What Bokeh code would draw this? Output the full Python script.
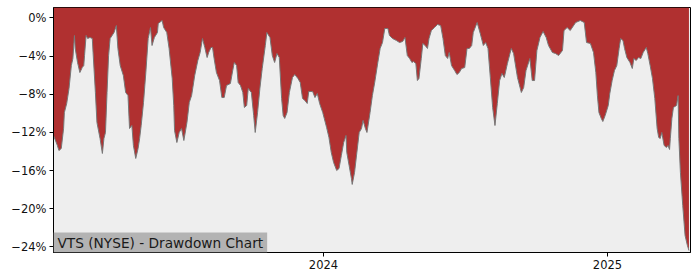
import pandas as pd
from bokeh.plotting import figure
from bokeh.models import (ColumnDataSource, Range1d, FixedTicker, DatetimeTickFormatter, Label)
from bokeh.embed import file_html
from bokeh.resources import INLINE

dates = [
    "2023-01-18", "2023-01-23", "2023-01-25", "2023-01-28", "2023-01-31", "2023-02-01", "2023-02-04",
    "2023-02-07", "2023-02-10", "2023-02-12", "2023-02-14", "2023-02-15", "2023-02-18", "2023-02-21",
    "2023-02-24", "2023-02-26", "2023-02-27", "2023-03-01", "2023-03-03", "2023-03-06", "2023-03-09",
    "2023-03-10", "2023-03-13", "2023-03-15", "2023-03-19", "2023-03-22", "2023-03-24", "2023-03-26",
    "2023-03-28", "2023-03-30", "2023-04-01", "2023-04-06", "2023-04-09", "2023-04-11", "2023-04-14",
    "2023-04-18", "2023-04-21", "2023-04-24", "2023-04-26", "2023-04-29", "2023-05-01", "2023-05-04",
    "2023-05-07", "2023-05-09", "2023-05-11", "2023-05-14", "2023-05-17", "2023-05-20", "2023-05-23",
    "2023-05-25", "2023-05-28", "2023-06-01", "2023-06-02", "2023-06-07", "2023-06-09", "2023-06-13",
    "2023-06-16", "2023-06-20", "2023-06-22", "2023-06-23", "2023-06-26", "2023-06-29", "2023-07-02",
    "2023-07-05", "2023-07-09", "2023-07-12", "2023-07-15", "2023-07-19", "2023-07-23", "2023-07-26",
    "2023-07-29", "2023-08-01", "2023-08-04", "2023-08-06", "2023-08-09", "2023-08-11", "2023-08-13",
    "2023-08-16", "2023-08-20", "2023-08-23", "2023-08-26", "2023-08-29", "2023-09-03", "2023-09-06",
    "2023-09-08", "2023-09-11", "2023-09-13", "2023-09-16", "2023-09-19", "2023-09-21", "2023-09-24",
    "2023-09-26", "2023-09-30", "2023-10-03", "2023-10-05", "2023-10-08", "2023-10-11", "2023-10-14",
    "2023-10-18", "2023-10-20", "2023-10-24", "2023-10-27", "2023-10-30", "2023-11-02", "2023-11-05",
    "2023-11-08", "2023-11-10", "2023-11-12", "2023-11-15", "2023-11-18", "2023-11-22", "2023-11-25",
    "2023-11-29", "2023-12-02", "2023-12-05", "2023-12-08", "2023-12-11", "2023-12-13", "2023-12-18",
    "2023-12-21", "2023-12-24", "2023-12-27", "2023-12-31",
    "2024-01-05", "2024-01-08", "2024-01-11", "2024-01-14", "2024-01-18", "2024-01-21", "2024-01-24",
    "2024-01-27", "2024-01-30", "2024-01-31", "2024-02-03", "2024-02-06", "2024-02-07", "2024-02-10",
    "2024-02-13", "2024-02-16", "2024-02-19", "2024-02-21", "2024-02-24", "2024-02-26", "2024-03-01",
    "2024-03-04", "2024-03-07", "2024-03-11", "2024-03-14", "2024-03-17", "2024-03-20", "2024-03-24",
    "2024-03-26", "2024-03-30", "2024-04-04", "2024-04-08", "2024-04-12", "2024-04-15", "2024-04-18",
    "2024-04-21", "2024-04-24", "2024-04-26", "2024-04-29", "2024-05-01", "2024-05-03", "2024-05-06",
    "2024-05-08", "2024-05-11", "2024-05-14", "2024-05-16", "2024-05-19", "2024-05-23", "2024-05-27",
    "2024-05-31", "2024-06-03", "2024-06-06", "2024-06-09", "2024-06-11", "2024-06-14", "2024-06-18",
    "2024-06-21", "2024-06-24", "2024-06-27", "2024-07-01", "2024-07-04", "2024-07-07", "2024-07-10",
    "2024-07-12", "2024-07-17", "2024-07-21", "2024-07-25", "2024-07-28", "2024-07-31", "2024-08-03",
    "2024-08-06", "2024-08-09", "2024-08-12", "2024-08-15", "2024-08-18", "2024-08-21", "2024-08-25",
    "2024-08-30", "2024-09-02", "2024-09-07", "2024-09-12", "2024-09-15", "2024-09-18", "2024-09-23",
    "2024-09-26", "2024-09-29", "2024-10-02", "2024-10-06", "2024-10-10", "2024-10-14", "2024-10-17",
    "2024-10-22", "2024-10-26", "2024-10-30", "2024-11-04", "2024-11-06", "2024-11-10", "2024-11-14",
    "2024-11-21", "2024-11-27", "2024-12-02", "2024-12-05", "2024-12-10", "2024-12-14", "2024-12-17",
    "2024-12-19", "2024-12-21", "2024-12-24", "2024-12-26", "2024-12-29",
    "2025-01-02", "2025-01-04", "2025-01-07", "2025-01-10", "2025-01-13", "2025-01-16", "2025-01-18",
    "2025-01-21", "2025-01-23", "2025-01-26", "2025-01-30", "2025-02-02", "2025-02-04", "2025-02-07",
    "2025-02-10", "2025-02-13", "2025-02-16", "2025-02-20", "2025-02-22", "2025-02-25", "2025-02-28",
    "2025-03-03", "2025-03-06", "2025-03-08", "2025-03-10", "2025-03-12", "2025-03-15", "2025-03-18",
    "2025-03-20", "2025-03-22", "2025-03-23", "2025-03-25", "2025-03-27", "2025-03-31", "2025-04-02",
    "2025-04-03", "2025-04-05", "2025-04-08", "2025-04-11", "2025-04-14", "2025-04-16",
]

drawdown_pct = [
    -12.32, -13.37, -13.90, -13.69, -11.59, -9.92, -8.97,
    -7.40, -5.00, -4.26, -1.85, -3.21, -4.68, -5.73,
    -5.21, -5.00, -3.95, -1.85, -2.17, -2.06, -2.17,
    -3.63, -7.82, -10.96, -12.64, -14.21, -12.64, -12.01,
    -7.82, -3.95, -2.17, -1.54, -0.81, -3.21, -5.00,
    -6.04, -7.82, -8.14, -11.59, -11.28, -13.37, -14.73,
    -13.69, -12.64, -11.28, -8.87, -5.73, -2.17, -1.02,
    -2.90, -2.06, -1.54, -0.60, -0.28, -1.02, -1.54,
    -3.21, -6.35, -9.18, -11.80, -13.06, -12.01, -11.59,
    -12.85, -10.96, -8.87, -8.14, -6.04, -4.47, -3.63,
    -2.17, -3.11, -4.16, -3.63, -3.11, -3.11, -4.26,
    -5.73, -6.57, -8.35, -8.35, -7.09, -6.88, -5.52,
    -4.68, -5.00, -6.77, -7.09, -7.82, -9.39, -9.18,
    -7.40, -7.82, -10.23, -12.01, -9.92, -7.40, -5.31,
    -2.90, -1.54, -2.06, -3.95, -4.68, -3.74, -4.16,
    -8.45, -10.23, -10.54, -9.92, -7.82, -6.25, -5.94,
    -6.35, -6.77, -8.45, -8.66, -8.97, -7.72, -7.72,
    -8.35, -7.93, -8.97, -9.92,
    -11.49, -12.53, -14.10, -15.15, -15.99, -15.78, -14.42,
    -13.06, -12.32, -14.10, -15.47, -16.83, -17.45, -16.20,
    -14.10, -12.01, -11.59, -10.75, -11.59, -12.01, -9.92,
    -8.14, -6.77, -4.68, -3.21, -2.59, -1.12, -1.12,
    -1.85, -2.17, -2.38, -2.59, -2.48, -2.06, -3.95,
    -4.26, -4.68, -4.58, -4.79, -6.57, -6.35, -4.26,
    -2.69, -2.90, -3.21, -2.17, -1.33, -1.02, -0.70,
    -0.81, -2.17, -3.95, -4.26, -3.63, -5.00, -5.52,
    -5.94, -5.73, -5.31, -5.21, -3.21, -3.21, -2.90,
    -1.54, -0.49, -1.64, -2.90, -2.59, -3.21, -6.25,
    -9.39, -11.28, -8.97, -6.57, -5.83, -6.25, -4.79,
    -3.21, -3.74, -6.25, -7.82, -7.30, -5.52, -4.26,
    -6.57, -6.57, -3.42, -2.06, -1.43, -2.06, -2.90,
    -3.63, -3.74, -3.95, -3.42, -1.33, -1.02, -1.33,
    -0.49, -0.28, -0.49, -2.59, -2.69, -3.63, -5.73,
    -8.14, -9.92, -10.54, -10.86, -10.23,
    -9.18, -7.93, -6.57, -5.52, -5.00, -3.21, -2.17,
    -2.38, -3.21, -4.16, -4.68, -5.31, -4.26, -4.47,
    -4.16, -4.26, -3.63, -3.11, -3.74, -5.00, -6.35,
    -8.45, -11.59, -12.53, -12.64, -12.01, -13.37, -13.58,
    -13.37, -13.79, -12.64, -10.54, -9.39, -9.18, -8.14,
    -12.64, -16.20, -19.65, -22.80, -23.84, -24.37,
]

y_ticks = [0, -4, -8, -12, -16, -20, -24]
y_tick_labels = ["0%", "\u22124%", "\u22128%", "\u221212%", "\u221216%", "\u221220%", "\u221224%"]
x_tick_dates = ["2024-01-01", "2025-01-01"]
title_text = "VTS (NYSE) - Drawdown Chart"

Y_TOP = 1.08
Y_BOTTOM = -24.58

src = ColumnDataSource(dict(
    date=pd.to_datetime(dates),
    dd=drawdown_pct,
    top=[Y_TOP] * len(drawdown_pct),
))

p = figure(width=700, height=280, output_backend="svg", toolbar_location=None,
           x_axis_type="datetime",
           x_range=Range1d(pd.Timestamp("2023-01-18"), pd.Timestamp("2025-04-18")),
           y_range=Range1d(Y_BOTTOM, Y_TOP),
           min_border_left=53, min_border_right=10, min_border_top=7, min_border_bottom=28)

p.background_fill_color = "#eeeeee"
p.border_fill_color = "white"
p.outline_line_color = "black"
p.outline_line_width = 1
p.xgrid.visible = False
p.ygrid.visible = False

p.varea(x="date", y1="dd", y2="top", source=src, fill_color="#b03030", fill_alpha=1.0)
p.line(x="date", y="dd", source=src, line_color="#777777", line_width=1)

p.yaxis.ticker = FixedTicker(ticks=y_ticks)
p.yaxis.major_label_overrides = {t: l for t, l in zip(y_ticks, y_tick_labels)}
p.xaxis.ticker = FixedTicker(ticks=[pd.Timestamp(d).value / 1e6 for d in x_tick_dates])
p.xaxis.formatter = DatetimeTickFormatter(years="%Y", months="%Y", days="%Y", hours="%Y",
                                          minutes="%Y", seconds="%Y", milliseconds="%Y",
                                          microseconds="%Y", hourmin="%Y", minsec="%Y")
for ax in (p.xaxis, p.yaxis):
    ax.minor_tick_line_color = None
    ax.major_tick_in = 0
    ax.major_tick_out = 4
    ax.major_tick_line_color = "black"
    ax.axis_line_color = "black"
    ax.major_label_text_font = "DejaVu Sans"
    ax.major_label_text_font_size = "11.5px"
    ax.major_label_text_color = "#111111"
    ax.major_label_standoff = 3

lab = Label(x=0, y=0, x_units="screen", y_units="screen", text=title_text,
            text_font="DejaVu Sans", text_font_size="13.7px", text_color="#1a1a1a",
            text_align="left", text_baseline="bottom",
            background_fill_color="#b3b3b3", background_fill_alpha=1.0,
            padding=(4, 2))
p.add_layout(lab)

open("out.html", "w").write(file_html(p, INLINE))
